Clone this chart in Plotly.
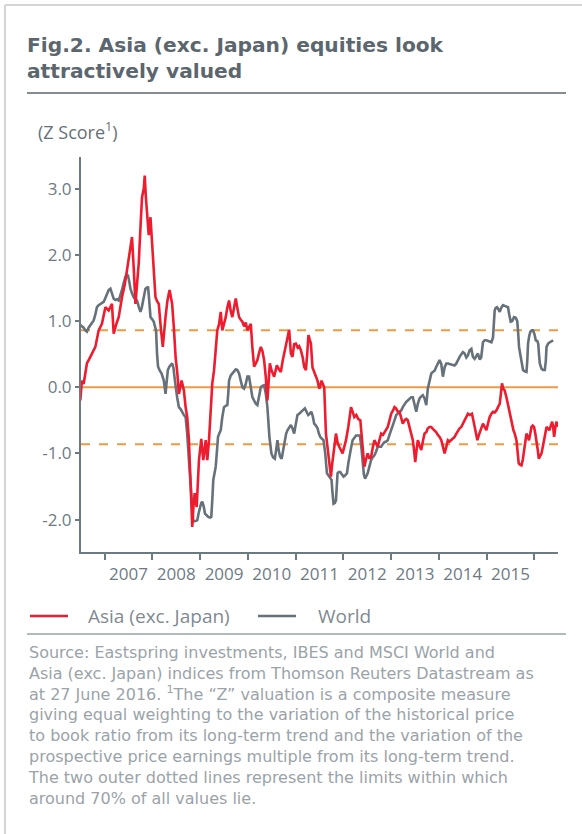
import plotly.graph_objects as go
import pandas as pd

# ---------------- data ----------------
asia_t = [2006.490, 2006.523, 2006.559, 2006.628, 2006.700, 2006.748, 2006.805, 2006.874, 2006.943, 2007.015,
          2007.084, 2007.153, 2007.189, 2007.242, 2007.294, 2007.363, 2007.420, 2007.468, 2007.525, 2007.573,
          2007.609, 2007.645, 2007.683, 2007.714, 2007.756, 2007.783, 2007.819, 2007.840, 2007.861, 2007.888,
          2007.924, 2007.960, 2007.993, 2008.029, 2008.065, 2008.098, 2008.134, 2008.176, 2008.218, 2008.275,
          2008.313, 2008.359, 2008.413, 2008.449, 2008.485, 2008.523, 2008.554, 2008.611, 2008.659, 2008.695,
          2008.728, 2008.764, 2008.800, 2008.833, 2008.859, 2008.884, 2008.926, 2008.974, 2009.022, 2009.064,
          2009.115, 2009.148, 2009.184, 2009.220, 2009.253, 2009.289, 2009.325, 2009.358, 2009.394, 2009.430,
          2009.463, 2009.499, 2009.535, 2009.568, 2009.604, 2009.640, 2009.673, 2009.709, 2009.745, 2009.778,
          2009.814, 2009.850, 2009.883, 2009.919, 2009.955, 2009.988, 2010.024, 2010.060, 2010.093, 2010.129,
          2010.165, 2010.198, 2010.234, 2010.270, 2010.303, 2010.339, 2010.375, 2010.408, 2010.459, 2010.497,
          2010.549, 2010.606, 2010.644, 2010.690, 2010.728, 2010.759, 2010.795, 2010.828, 2010.864, 2010.900,
          2010.933, 2010.969, 2011.005, 2011.043, 2011.074, 2011.110, 2011.148, 2011.179, 2011.215, 2011.242,
          2011.269, 2011.295, 2011.320, 2011.353, 2011.389, 2011.425, 2011.458, 2011.494, 2011.509, 2011.542,
          2011.599, 2011.635, 2011.673, 2011.704, 2011.740, 2011.767, 2011.794, 2011.820, 2011.845, 2011.883,
          2011.914, 2011.946, 2011.983, 2012.019, 2012.055, 2012.103, 2012.135, 2012.160, 2012.198, 2012.229,
          2012.271, 2012.313, 2012.355, 2012.380, 2012.403, 2012.439, 2012.471, 2012.508, 2012.544, 2012.580,
          2012.618, 2012.649, 2012.685, 2012.718, 2012.754, 2012.790, 2012.828, 2012.859, 2012.895, 2012.928,
          2012.964, 2013.000, 2013.038, 2013.069, 2013.101, 2013.138, 2013.174, 2013.206, 2013.243, 2013.279,
          2013.315, 2013.348, 2013.384, 2013.405, 2013.453, 2013.479, 2013.504, 2013.531, 2013.558, 2013.594,
          2013.630, 2013.668, 2013.699, 2013.735, 2013.768, 2013.804, 2013.840, 2013.873, 2013.909, 2013.945,
          2013.978, 2014.014, 2014.050, 2014.083, 2014.119, 2014.155, 2014.188, 2014.224, 2014.260, 2014.293,
          2014.329, 2014.365, 2014.398, 2014.434, 2014.470, 2014.503, 2014.539, 2014.575, 2014.608, 2014.644,
          2014.692, 2014.722, 2014.749, 2014.781, 2014.806, 2014.839, 2014.875, 2014.923, 2014.959, 2014.995,
          2015.028, 2015.064, 2015.100, 2015.133, 2015.169, 2015.205, 2015.238, 2015.274, 2015.299, 2015.322,
          2015.348, 2015.379, 2015.415, 2015.448, 2015.474, 2015.505, 2015.532, 2015.562, 2015.589, 2015.625,
          2015.652, 2015.673, 2015.700, 2015.730, 2015.757, 2015.784, 2015.810, 2015.835, 2015.862, 2015.889,
          2015.915, 2015.940, 2015.967, 2015.994, 2016.020, 2016.045, 2016.072, 2016.093, 2016.120, 2016.150,
          2016.177, 2016.204, 2016.230, 2016.255, 2016.282, 2016.314, 2016.345, 2016.372, 2016.393, 2016.414,
          2016.440, 2016.465, 2016.486]
asia_v = [-0.20, 0.10, 0.05, 0.36, 0.46, 0.52, 0.61, 0.86, 0.96, 1.21,
          1.16, 1.26, 0.81, 0.95, 1.06, 1.36, 1.55, 1.77, 2.05, 2.27,
          1.80, 1.26, 1.60, 1.87, 2.50, 2.87, 3.00, 3.20, 2.90, 2.62,
          2.30, 2.57, 2.17, 1.80, 1.36, 1.30, 1.26, 0.90, 0.61, 1.06,
          1.30, 1.47, 1.26, 0.90, 0.46, 0.20, -0.10, 0.10, -0.05, -0.30,
          -0.45, -0.80, -1.40, -2.11, -1.80, -1.60, -1.81, -1.10, -0.78, -1.10,
          -0.80, -1.10, -0.80, -0.30, 0.06, 0.25, 0.55, 0.86, 0.95, 1.14,
          0.86, 0.95, 1.06, 1.20, 1.31, 1.15, 1.06, 1.20, 1.34, 1.20,
          1.06, 1.02, 0.99, 0.92, 0.98, 0.86, 0.90, 0.96, 0.60, 0.31,
          0.36, 0.41, 0.52, 0.61, 0.55, 0.41, 0.15, -0.20, 0.36, 0.25,
          0.16, 0.33, 0.28, 0.23, 0.40, 0.51, 0.60, 0.71, 0.87, 0.51,
          0.46, 0.65, 0.66, 0.60, 0.62, 0.56, 0.45, 0.31, 0.26, 0.50,
          0.79, 0.72, 0.66, 0.30, 0.22, 0.16, 0.10, -0.02, 0.00, 0.10,
          0.00, -0.70, -0.95, -1.10, -1.35, -1.15, -0.95, -0.85, -0.70, -0.85,
          -0.90, -0.95, -1.00, -0.90, -0.80, -0.60, -0.45, -0.30, -0.38, -0.45,
          -0.42, -0.48, -0.50, -0.75, -0.95, -1.20, -1.10, -1.00, -1.08, -1.05,
          -0.90, -0.80, -0.85, -0.90, -0.80, -0.70, -0.72, -0.68, -0.65, -0.60,
          -0.50, -0.40, -0.35, -0.30, -0.32, -0.37, -0.37, -0.45, -0.55, -0.50,
          -0.48, -0.50, -0.60, -0.70, -0.80, -0.95, -1.13, -0.95, -0.80, -0.88,
          -0.95, -0.80, -0.70, -0.68, -0.62, -0.60, -0.60, -0.63, -0.65, -0.68,
          -0.72, -0.75, -0.80, -0.90, -1.00, -0.90, -0.80, -0.82, -0.80, -0.77,
          -0.75, -0.70, -0.65, -0.62, -0.60, -0.55, -0.50, -0.45, -0.40, -0.42,
          -0.40, -0.50, -0.60, -0.70, -0.80, -0.72, -0.65, -0.55, -0.60, -0.65,
          -0.55, -0.45, -0.40, -0.37, -0.38, -0.35, -0.30, -0.25, -0.10, 0.06,
          -0.02, -0.05, -0.15, -0.25, -0.35, -0.45, -0.55, -0.65, -0.70, -0.80,
          -1.00, -1.15, -1.17, -1.18, -1.10, -0.95, -0.80, -0.70, -0.75, -0.80,
          -0.70, -0.60, -0.58, -0.60, -0.70, -0.80, -0.95, -1.08, -1.05, -1.00,
          -0.90, -0.80, -0.70, -0.60, -0.62, -0.65, -0.58, -0.52, -0.60, -0.75,
          -0.60, -0.52, -0.60]

world_t = [2006.490, 2006.528, 2006.559, 2006.595, 2006.628, 2006.664, 2006.700, 2006.733, 2006.769, 2006.805,
           2006.838, 2006.874, 2006.910, 2006.943, 2006.979, 2007.015, 2007.048, 2007.084, 2007.120, 2007.153,
           2007.189, 2007.225, 2007.258, 2007.294, 2007.330, 2007.363, 2007.399, 2007.435, 2007.468, 2007.489,
           2007.515, 2007.540, 2007.573, 2007.609, 2007.645, 2007.678, 2007.714, 2007.750, 2007.777, 2007.798,
           2007.825, 2007.855, 2007.882, 2007.909, 2007.935, 2007.960, 2007.993, 2008.029, 2008.054, 2008.077,
           2008.098, 2008.119, 2008.155, 2008.191, 2008.218, 2008.239, 2008.275, 2008.302, 2008.323, 2008.355,
           2008.380, 2008.413, 2008.439, 2008.460, 2008.485, 2008.518, 2008.554, 2008.590, 2008.623, 2008.659,
           2008.695, 2008.728, 2008.764, 2008.800, 2008.827, 2008.854, 2008.896, 2008.938, 2008.968, 2008.995,
           2009.020, 2009.043, 2009.073, 2009.100, 2009.136, 2009.169, 2009.205, 2009.232, 2009.253, 2009.274,
           2009.300, 2009.325, 2009.352, 2009.373, 2009.400, 2009.430, 2009.463, 2009.499, 2009.535, 2009.568,
           2009.587, 2009.604, 2009.640, 2009.673, 2009.709, 2009.745, 2009.778, 2009.814, 2009.850, 2009.883,
           2009.919, 2009.955, 2009.988, 2010.024, 2010.060, 2010.093, 2010.129, 2010.165, 2010.198, 2010.234,
           2010.270, 2010.303, 2010.339, 2010.375, 2010.408, 2010.450, 2010.492, 2010.528, 2010.564, 2010.591,
           2010.618, 2010.644, 2010.675, 2010.707, 2010.738, 2010.774, 2010.801, 2010.828, 2010.864, 2010.900,
           2010.933, 2010.969, 2011.005, 2011.038, 2011.074, 2011.110, 2011.148, 2011.194, 2011.227, 2011.263,
           2011.295, 2011.332, 2011.362, 2011.389, 2011.425, 2011.458, 2011.488, 2011.515, 2011.551, 2011.584,
           2011.620, 2011.656, 2011.704, 2011.752, 2011.773, 2011.794, 2011.820, 2011.845, 2011.862, 2011.878,
           2011.904, 2011.935, 2011.971, 2012.004, 2012.040, 2012.076, 2012.103, 2012.124, 2012.160, 2012.193,
           2012.229, 2012.265, 2012.303, 2012.345, 2012.376, 2012.403, 2012.429, 2012.454, 2012.481, 2012.508,
           2012.544, 2012.580, 2012.613, 2012.649, 2012.685, 2012.718, 2012.754, 2012.790, 2012.823, 2012.859,
           2012.895, 2012.928, 2012.964, 2013.000, 2013.033, 2013.069, 2013.105, 2013.138, 2013.174, 2013.210,
           2013.243, 2013.279, 2013.315, 2013.348, 2013.384, 2013.420, 2013.453, 2013.489, 2013.525, 2013.558,
           2013.594, 2013.630, 2013.663, 2013.699, 2013.735, 2013.768, 2013.804, 2013.840, 2013.873, 2013.909,
           2013.945, 2013.978, 2014.014, 2014.050, 2014.083, 2014.119, 2014.155, 2014.188, 2014.224, 2014.260,
           2014.293, 2014.329, 2014.365, 2014.398, 2014.434, 2014.470, 2014.503, 2014.539, 2014.575, 2014.608,
           2014.644, 2014.680, 2014.713, 2014.749, 2014.785, 2014.818, 2014.854, 2014.886, 2014.923, 2014.959,
           2014.995, 2015.028, 2015.064, 2015.100, 2015.133, 2015.154, 2015.169, 2015.190, 2015.217, 2015.247,
           2015.274, 2015.306, 2015.343, 2015.379, 2015.415, 2015.448, 2015.474, 2015.505, 2015.537, 2015.574,
           2015.610, 2015.642, 2015.663, 2015.679, 2015.705, 2015.730, 2015.763, 2015.799, 2015.835, 2015.852,
           2015.868, 2015.894, 2015.919, 2015.946, 2015.973, 2016.003, 2016.030, 2016.062, 2016.083, 2016.097,
           2016.114, 2016.150, 2016.183, 2016.219, 2016.240, 2016.255, 2016.288, 2016.324, 2016.360, 2016.393]
world_v = [0.94, 0.92, 0.90, 0.86, 0.84, 0.90, 0.94, 0.97, 1.01, 1.10,
           1.21, 1.24, 1.26, 1.28, 1.29, 1.35, 1.42, 1.47, 1.49, 1.42,
           1.34, 1.32, 1.33, 1.31, 1.38, 1.47, 1.58, 1.67, 1.70, 1.69,
           1.60, 1.49, 1.42, 1.36, 1.33, 1.31, 1.22, 1.14, 1.20, 1.26,
           1.38, 1.49, 1.51, 1.52, 1.30, 1.06, 1.03, 0.99, 0.92, 0.86,
           0.50, 0.31, 0.25, 0.21, 0.15, 0.10, -0.10, 0.10, 0.26, 0.31,
           0.33, 0.36, 0.30, 0.15, 0.02, -0.15, -0.30, -0.33, -0.38, -0.42,
           -0.45, -0.70, -1.10, -1.50, -1.80, -2.03, -2.02, -2.01, -1.90, -1.81,
           -1.75, -1.73, -1.80, -1.91, -1.94, -1.96, -1.97, -1.96, -1.70, -1.40,
           -1.30, -1.20, -0.95, -0.75, -0.70, -0.65, -0.45, -0.30, -0.28, -0.27,
           -0.10, 0.10, 0.18, 0.21, 0.23, 0.27, 0.26, 0.21, 0.10, 0.00,
           -0.02, 0.05, 0.16, 0.16, 0.00, -0.15, -0.20, -0.25, -0.27, -0.12,
           0.00, 0.02, 0.03, -0.10, -0.30, -0.75, -1.00, -1.06, -1.08, -0.95,
           -0.80, -0.95, -1.05, -1.08, -0.95, -0.75, -0.70, -0.65, -0.60, -0.57,
           -0.62, -0.70, -0.55, -0.42, -0.40, -0.37, -0.35, -0.32, -0.36, -0.42,
           -0.40, -0.37, -0.45, -0.55, -0.58, -0.62, -0.70, -0.75, -0.78, -0.80,
           -1.00, -1.30, -1.35, -1.40, -1.60, -1.76, -1.75, -1.71, -1.50, -1.30,
           -1.28, -1.28, -1.32, -1.35, -1.33, -1.30, -1.15, -1.05, -0.92, -0.80,
           -0.76, -0.73, -0.73, -0.73, -0.90, -1.20, -1.32, -1.38, -1.35, -1.30,
           -1.20, -1.10, -1.06, -1.03, -0.97, -0.90, -0.90, -0.90, -0.86, -0.83,
           -0.82, -0.80, -0.72, -0.65, -0.60, -0.50, -0.42, -0.40, -0.37, -0.35,
           -0.30, -0.25, -0.22, -0.20, -0.17, -0.15, -0.15, -0.25, -0.37, -0.25,
           -0.17, -0.14, -0.12, -0.17, -0.27, -0.02, 0.10, 0.21, 0.23, 0.25,
           0.31, 0.35, 0.41, 0.35, 0.16, 0.30, 0.36, 0.36, 0.35, 0.34,
           0.33, 0.33, 0.36, 0.42, 0.46, 0.50, 0.53, 0.51, 0.45, 0.48,
           0.56, 0.58, 0.46, 0.43, 0.48, 0.51, 0.42, 0.45, 0.68, 0.71,
           0.71, 0.70, 0.69, 0.68, 0.75, 1.00, 1.16, 1.20, 1.21, 1.18,
           1.14, 1.20, 1.24, 1.23, 1.22, 1.21, 1.10, 0.99, 1.00, 1.06,
           1.05, 1.00, 0.80, 0.61, 0.50, 0.41, 0.26, 0.24, 0.23, 0.40,
           0.66, 0.78, 0.84, 0.86, 0.86, 0.80, 0.71, 0.70, 0.65, 0.50,
           0.36, 0.28, 0.26, 0.26, 0.40, 0.61, 0.66, 0.68, 0.70, 0.71]

band_limit = 0.86          # outer dotted lines (about 70% of values)
mean_level = 0.0
x_range = ["2006-07-04", "2016-06-30"]
y_range = [-2.49, 3.48]
y_ticks = [-2, -1, 0, 1, 2, 3]
y_tick_text = ["-2.0", "-1.0", "0.0", "1.0", "2.0", "3.0"]

series_names = ["Asia (exc. Japan)", "World"]
series_colors = ["#ED1C2E", "#66717A"]

title_lines = ["Fig.2. Asia (exc. Japan) equities look", "attractively valued"]
source_lines = [
    "Source: Eastspring investments, IBES and MSCI World and",
    "Asia (exc. Japan) indices from Thomson Reuters Datastream as",
    "at 27 June 2016. <sup>1</sup>The \u201cZ\u201d valuation is a composite measure",
    "giving equal weighting to the variation of the historical price",
    "to book ratio from its long-term trend and the variation of the",
    "prospective price earnings multiple from its long-term trend.",
    "The two outer dotted lines represent the limits within which",
    "around 70% of all values lie.",
]


def to_dates(ts):
    out = []
    for t in ts:
        y = int(t)
        start = pd.Timestamp(y, 1, 1)
        end = pd.Timestamp(y + 1, 1, 1)
        out.append(start + (end - start) * (t - y))
    return out


FONT = "Open Sans"
W, H = 582, 834
L, R, T, B = 81, 24, 157, 282
pw, ph = W - L - R, H - T - B


def px(xp):
    return (xp - L) / pw


def py(yp):
    return (H - B - yp) / ph


fig = go.Figure()

fig.add_trace(go.Scatter(x=to_dates(world_t), y=world_v, mode="lines", name=series_names[1],
                         line=dict(color=series_colors[1], width=2.6), showlegend=False))
fig.add_trace(go.Scatter(x=to_dates(asia_t), y=asia_v, mode="lines", name=series_names[0],
                         line=dict(color=series_colors[0], width=2.6), showlegend=False))

orange = "#EE9A45"
for lvl, dash in [(band_limit, "dash"), (-band_limit, "dash"), (mean_level, "solid")]:
    fig.add_shape(type="line", xref="paper", x0=0, x1=1, yref="y", y0=lvl, y1=lvl,
                  line=dict(color=orange, width=2, dash=dash), layer="below")

# frame, title rule, legend rule
frame_col = "#D5D5D5"
fig.add_shape(type="line", xref="paper", yref="paper", x0=px(5), x1=px(5), y0=py(5), y1=py(834),
              line=dict(color=frame_col, width=2))
fig.add_shape(type="line", xref="paper", yref="paper", x0=px(5), x1=px(582), y0=py(5), y1=py(5),
              line=dict(color=frame_col, width=2))
fig.add_shape(type="line", xref="paper", yref="paper", x0=px(27), x1=px(566), y0=py(93), y1=py(93),
              line=dict(color="#5B666E", width=1.3))
fig.add_shape(type="line", xref="paper", yref="paper", x0=px(27), x1=px(566), y0=py(634), y1=py(634),
              line=dict(color="#9AA3A9", width=1.3))

# legend (keys + names)
legend_keys = [(30, 68, 86), (258, 296, 316)]
for (x0, x1, xt), name, col in zip(legend_keys, series_names, series_colors):
    fig.add_shape(type="line", xref="paper", yref="paper", x0=px(x0), x1=px(x1), y0=py(616), y1=py(616),
                  line=dict(color=col, width=2.6))
    fig.add_annotation(text=name, xref="paper", yref="paper", x=px(xt), y=py(616),
                       xanchor="left", yanchor="middle", showarrow=False,
                       font=dict(family=FONT, size=19, color="#7F8A91"))

fig.add_annotation(text="<b>" + "<br>".join(title_lines) + "</b>", xref="paper", yref="paper",
                   x=px(25), y=py(57.5), xanchor="left", yanchor="middle", align="left", showarrow=False,
                   font=dict(family="DejaVu Sans", size=20.2, color="#5B666E"))
fig.add_annotation(text="(Z Score<sup>1</sup>)", xref="paper", yref="paper", x=px(36), y=py(131),
                   xanchor="left", yanchor="middle", showarrow=False,
                   font=dict(family=FONT, size=18, color="#66717A"))
fig.add_annotation(text="<br>".join(source_lines), xref="paper", yref="paper", x=px(26), y=py(641),
                   xanchor="left", yanchor="top", align="left", showarrow=False,
                   font=dict(family="DejaVu Sans", size=16, color="#9AA3A9"))

axis_col = "#6E7A82"
fig.update_layout(
    width=W, height=H,
    margin=dict(l=L, r=R, t=T, b=B, pad=0),
    paper_bgcolor="white", plot_bgcolor="white",
    font=dict(family=FONT, color="#6E7A82"),
    showlegend=False,
    xaxis=dict(type="date", range=x_range, tick0="2007-01-01", dtick="M12", tickformat="%Y",
               ticklabelmode="period", showgrid=False, zeroline=False,
               showline=True, linecolor=axis_col, linewidth=2,
               ticks="outside", ticklen=6, tickwidth=2, tickcolor=axis_col,
               tickfont=dict(family=FONT, size=17, color="#6E7A82")),
    yaxis=dict(range=y_range, tickmode="array", tickvals=y_ticks, ticktext=y_tick_text,
               showgrid=False, zeroline=False, showline=True, linecolor=axis_col, linewidth=2,
               ticks="outside", ticklen=4, tickwidth=2, tickcolor=axis_col,
               tickfont=dict(family=FONT, size=17, color="#6E7A82")),
)

fig.write_html("out.html", config={"displayModeBar": False},
               post_script="document.body.style.margin='0';")
